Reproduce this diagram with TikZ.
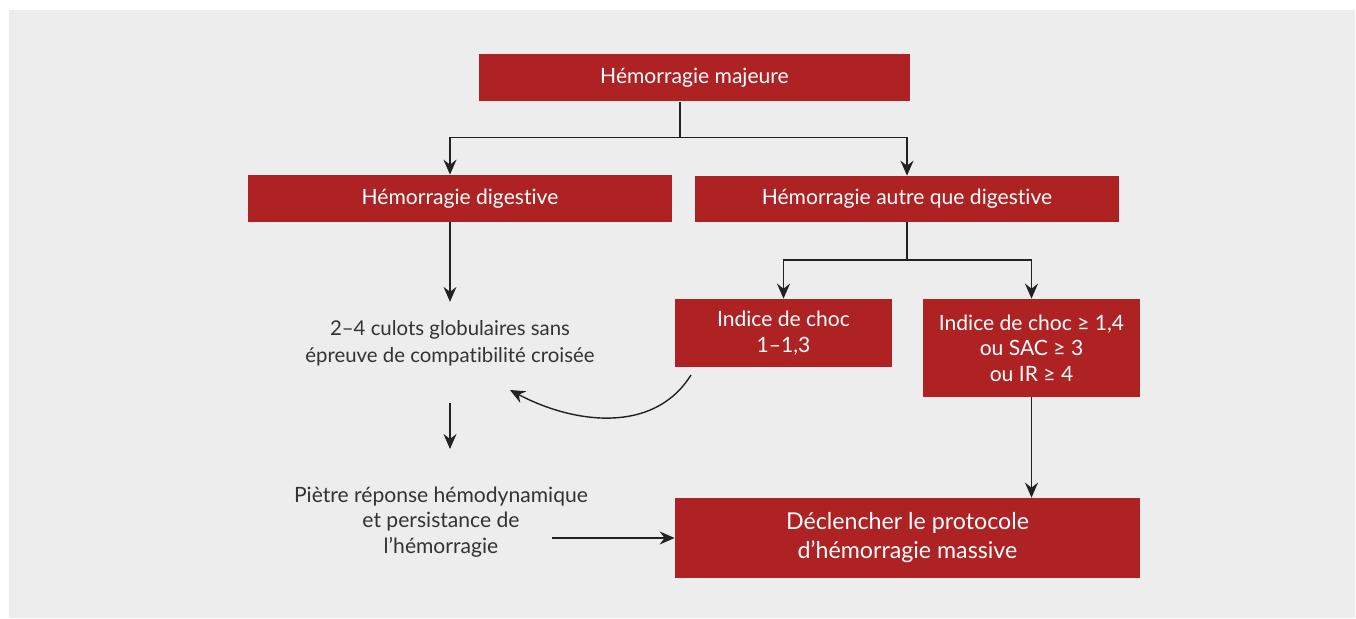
\documentclass[tikz,border=0pt]{standalone}
\usepackage{fontspec}
\setmainfont{Lato}[Ligatures={NoCommon,NoRare,NoContextual}]
\usetikzlibrary{arrows.meta, positioning}
\definecolor{boxred}{HTML}{AE2224}
\definecolor{bggrey}{HTML}{EDEDED}
\definecolor{txtgrey}{HTML}{333333}
\definecolor{lnblack}{HTML}{222222}

\begin{document}
\begin{tikzpicture}[
    redbox/.style={fill=boxred, text=white, align=center, inner sep=0pt, font=\fontsize{12}{14.5}\selectfont},
    plain/.style={text=txtgrey, align=center, inner sep=0pt},
    link/.style={draw=lnblack, line width=0.8pt},
    arr/.style={link, -{Stealth[length=3mm, width=2.6mm, inset=1mm]}}
]
    \useasboundingbox (0,0) rectangle (27.12,12.38);
    \fill[bggrey] (0.18,0.02) rectangle (27.1,12.18);

    \node[redbox, minimum width=8.62cm, minimum height=0.94cm] (major) at (13.89,10.82) {Hémorragie majeure};
    \node[redbox, minimum width=8.48cm, minimum height=0.94cm] (dig) at (9.2,8.41) {Hémorragie digestive};
    \node[redbox, minimum width=8.48cm, minimum height=0.92cm] (other) at (18.14,8.40) {Hémorragie autre que digestive};
    \node[redbox, minimum width=4.34cm, minimum height=1.36cm] (choclow) at (15.67,5.72) {Indice de choc\\1–1,3};
    \node[redbox, minimum width=4.34cm, minimum height=1.96cm] (chochigh) at (20.63,5.42) {Indice de choc ≥ 1,4\\ou SAC ≥ 3\\ou IR ≥ 4};
    \node[redbox, minimum width=9.3cm, minimum height=1.6cm, font=\fontsize{13.2}{16.5}\selectfont] (protocol) at (18.15,1.62) {Déclencher le protocole\\d’hémorragie massive};

    \node[plain, font=\fontsize{11.6}{15.4}\selectfont] (culots) at (9.0,5.52) {2–4 culots globulaires sans\\épreuve de compatibilité croisée};
    \node[plain, font=\fontsize{12}{14.5}\selectfont] (poor) at (8.82,1.94) {Piètre réponse hémodynamique\\et persistance de\\l’hémorragie};

    \coordinate (split) at (13.6,9.63);
    \coordinate (fork) at (18.14,7.18);
    \coordinate (poorout) at (11.04,1.62);
    \coordinate (curvein) at (13.82,4.88);
    \coordinate (curveout) at (10.2,4.58);

    \draw[link] (split |- major.south) -- (split);
    \draw[arr] (split) -| ([xshift=-2mm]dig.north);
    \draw[arr] (split) -| (other.north);
    \draw[link] (other.south) -- (fork);
    \draw[arr] (fork) -| (choclow.north);
    \draw[arr] (fork) -| (chochigh.north);

    \draw[arr, shorten >=0.36cm] ([xshift=-2mm]dig.south) -- ([xshift=-2mm]dig.south |- culots.north);
    \draw[arr, shorten <=1.2cm, shorten >=1.46cm] (culots.center) -- (culots.center |- poor.center);
    \draw[arr] (curvein) to[out=238, in=-28] (curveout);
    \draw[arr] (chochigh.south) -- (chochigh.south |- protocol.north);
    \draw[arr] (poorout) -- (protocol.west);
\end{tikzpicture}
\end{document}
